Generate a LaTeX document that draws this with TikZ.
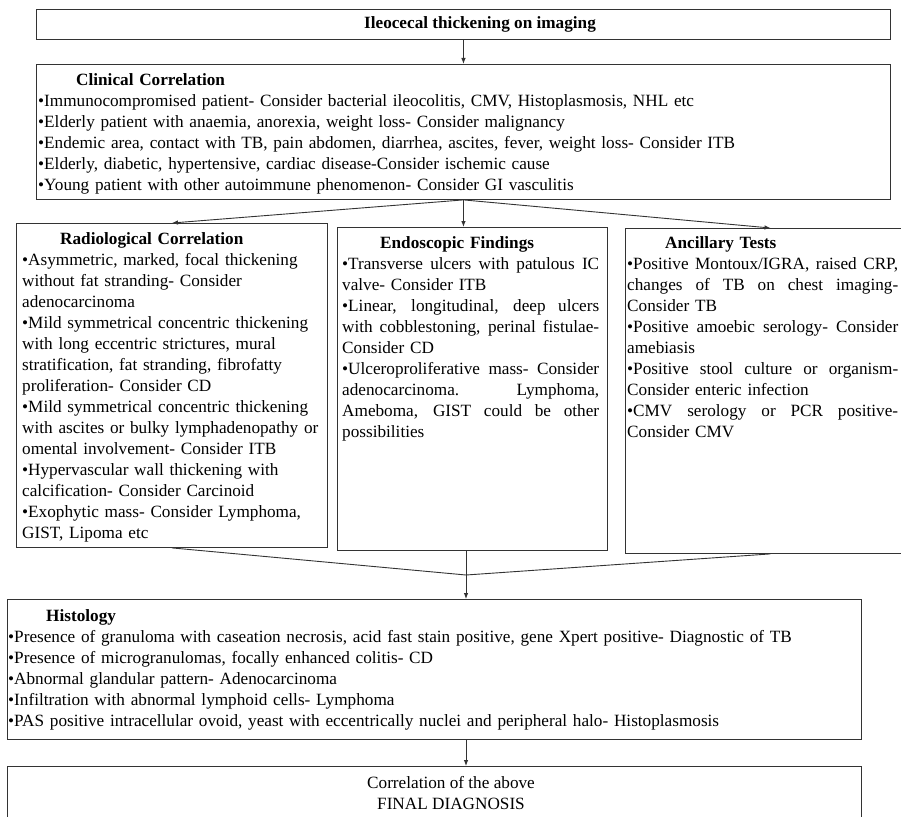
\documentclass[tikz,border=0pt]{standalone}
\usepackage{fontspec}
\setmainfont{Liberation Serif}
\usetikzlibrary{arrows.meta}
\newcommand{\jline}[1]{\makebox[\hsize][s]{\spaceskip=0pt\xspaceskip=0pt #1}\\}
\newcommand{\hdr}[1]{\hspace*{38pt}\textbf{#1}\\}
\begin{document}
\begin{tikzpicture}[x=1pt,y=-1pt,
  box/.style={draw=black!80, line width=0.9pt, inner sep=0, anchor=north west},
  txt/.style={inner sep=0, anchor=north west, align=left, font=\fontsize{17.2}{21}\selectfont},
  arr/.style={draw=black!80, line width=0.9pt, -{Latex[length=6pt,width=4.5pt]}},
  ln/.style={draw=black!80, line width=0.9pt}]
\useasboundingbox (0,0) rectangle (901,816);
\fill[white] (0,0) rectangle (901,816);
\clip (0,0) rectangle (901,816);

% boxes
\node[box, minimum width=854pt, minimum height=30pt]  (title) at (36,9) {};
\node[box, minimum width=854pt, minimum height=135pt] (clin)  at (36,64) {};
\node[box, minimum width=311pt, minimum height=324pt] (rad)   at (16,223) {};
\node[box, minimum width=270pt, minimum height=323pt] (endo)  at (337,227) {};
\node[box, minimum width=290pt, minimum height=325pt] (anc)   at (625,228) {};
\node[box, minimum width=854pt, minimum height=140pt] (hist)  at (7,599) {};
\node[box, minimum width=854pt, minimum height=56pt]  (fin)   at (7,766) {};

% texts
\node[inner sep=0, font=\fontsize{17.2}{21}\selectfont\bfseries] (titletxt) at (480,24) {Ileocecal thickening on imaging};

\node[txt, text width=840pt] (clintxt) at (38,73) {%
\hdr{Clinical Correlation}
•Immunocompromised patient- Consider bacterial ileocolitis, CMV, Histoplasmosis, NHL etc\\
•Elderly patient with anaemia, anorexia, weight loss- Consider malignancy\\
•Endemic area, contact with TB, pain abdomen, diarrhea, ascites, fever, weight loss- Consider ITB\\
•Elderly, diabetic, hypertensive, cardiac disease-Consider ischemic cause\\
•Young patient with other autoimmune phenomenon- Consider GI vasculitis};

\node[txt, text width=303pt] (radtxt) at (22,232) {%
\hdr{Radiological Correlation}
•Asymmetric, marked, focal thickening\\
without fat stranding- Consider\\
adenocarcinoma\\
•Mild symmetrical concentric thickening\\
with long eccentric strictures, mural\\
stratification, fat stranding, fibrofatty\\
proliferation- Consider CD\\
•Mild symmetrical concentric thickening\\
with ascites or bulky lymphadenopathy or\\
omental involvement- Consider ITB\\
•Hypervascular wall thickening with\\
calcification- Consider Carcinoid\\
•Exophytic mass- Consider Lymphoma,\\
GIST, Lipoma etc};

\node[txt, text width=257pt] (endotxt) at (342,236) {%
\hdr{Endoscopic Findings}
\jline{•Transverse ulcers with patulous IC}
valve- Consider ITB\\
\jline{•Linear, longitudinal, deep ulcers}
\jline{with cobblestoning, perinal fistulae-}
Consider CD\\
\jline{•Ulceroproliferative mass- Consider}
\jline{adenocarcinoma. Lymphoma,}
\jline{Ameboma, GIST could be other}
possibilities};

\node[txt, text width=271pt] (anctxt) at (627,236) {%
\hdr{Ancillary Tests}
\jline{•Positive Montoux/IGRA, raised CRP,}
\jline{changes of TB on chest imaging-}
Consider TB\\
\jline{•Positive amoebic serology- Consider}
amebiasis\\
\jline{•Positive stool culture or organism-}
Consider enteric infection\\
\jline{•CMV serology or PCR positive-}
Consider CMV};

\node[txt, text width=845pt] (histtxt) at (8,609) {%
\hdr{Histology}
•Presence of granuloma with caseation necrosis, acid fast stain positive, gene Xpert positive- Diagnostic of TB\\
•Presence of microgranulomas, focally enhanced colitis- CD\\
•Abnormal glandular pattern- Adenocarcinoma\\
•Infiltration with abnormal lymphoid cells- Lymphoma\\
•PAS positive intracellular ovoid, yeast with eccentrically nuclei and peripheral halo- Histoplasmosis};

\node[inner sep=0, align=center, font=\fontsize{17.2}{21}\selectfont] (fintxt) at (451,793) {Correlation of the above\\FINAL DIAGNOSIS};

% connectors
\coordinate (m) at (466,575);
\draw[arr] (title.south) -- (clin.north);
\draw[arr] (clin.south) -- (rad.north);
\draw[arr] (clin.south) -- (clin.south |- endo.north);
\draw[arr] (clin.south) -- (anc.north);
\draw[ln] (rad.south) -- (m);
\draw[ln] (anc.south) -- (m);
\draw[ln] (m |- endo.south) -- (m);
\draw[arr] (m) -- (m |- hist.north);
\draw[arr] (m |- hist.south) -- (m |- fin.north);
\end{tikzpicture}
\end{document}
